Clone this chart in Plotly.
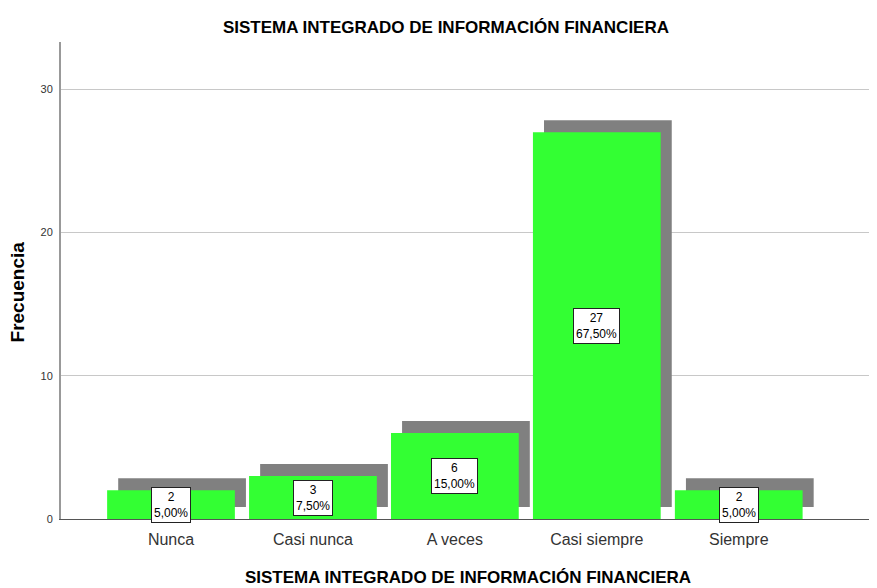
import plotly.graph_objects as go

categories = ["Nunca", "Casi nunca", "A veces", "Casi siempre", "Siempre"]
frecuencia = [2, 3, 6, 27, 2]
porcentaje = ["5,00%", "7,50%", "15,00%", "67,50%", "5,00%"]

titulo = "SISTEMA INTEGRADO DE INFORMACIÓN FINANCIERA"
pos = list(range(len(categories)))

fig = go.Figure()
# sombra gris desplazada
fig.add_trace(go.Bar(
    x=[p + 0.078 for p in pos],
    y=frecuencia,
    base=0.84,
    width=0.9,
    marker=dict(color="#808080", line=dict(width=0)),
    hoverinfo="skip",
))
fig.add_trace(go.Bar(
    x=pos,
    y=frecuencia,
    width=0.9,
    marker=dict(color="#33FF33", line=dict(width=0)),
))

for p, f, pc in zip(pos, frecuencia, porcentaje):
    fig.add_annotation(
        x=p, y=f / 2, text=f"{f}<br>{pc}", showarrow=False,
        font=dict(family="Liberation Sans, Arial", size=12, color="#000"),
        bgcolor="white", bordercolor="#222", borderwidth=1, borderpad=2,
    )

# titulo del eje Y como anotacion para ubicarlo igual que el original
fig.add_annotation(
    text="<b>Frecuencia</b>", textangle=-90, showarrow=False,
    xref="paper", yref="paper", x=-0.054, y=0.475, xanchor="center", yanchor="middle",
    font=dict(family="Liberation Sans, Arial", size=19, color="#000"),
)

fig.update_layout(
    width=877, height=588,
    margin=dict(l=53, r=10, t=34, b=77),
    barmode="overlay",
    showlegend=False,
    plot_bgcolor="white",
    paper_bgcolor="white",
    font=dict(family="Liberation Sans, Arial", color="#222"),
    title=dict(text="<b>" + titulo + "</b>", x=0.4994, xanchor="center", y=0.968,
               yanchor="middle", font=dict(size=17, color="#000")),
)
fig.update_xaxes(
    range=[-0.775, 4.96],
    tickvals=pos, ticktext=categories,
    tickfont=dict(size=16, color="#333"),
    ticklabelstandoff=6,
    showline=True, linecolor="#555", linewidth=1,
    showgrid=False, zeroline=False, automargin=False,
    title=dict(text="<b>" + titulo + "</b>", font=dict(size=17, color="#000"), standoff=23),
)
fig.update_yaxes(
    range=[0, 33.3],
    tickvals=[0, 10, 20, 30],
    tickfont=dict(size=11, color="#333"),
    ticklabelstandoff=4,
    showline=True, linecolor="#999", linewidth=2,
    showgrid=True, gridcolor="#c8c8c8", zeroline=False, automargin=False,
)

fig.write_html("out.html")
